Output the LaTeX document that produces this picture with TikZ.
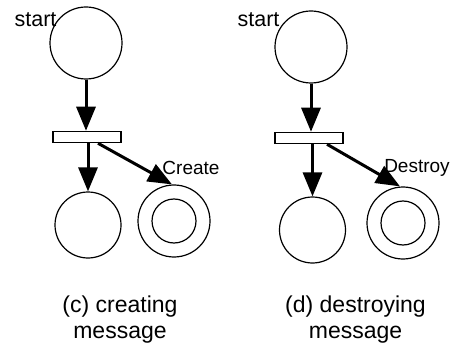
\documentclass[tikz,border=0pt]{standalone}
\usepackage{fontspec}
\setmainfont{Liberation Sans}
\usetikzlibrary{arrows.meta}
\tikzset{
  place/.style={circle, draw, line width=1.2pt, inner sep=0pt},
  trans/.style={rectangle, draw, line width=1.5pt, minimum width=68pt, minimum height=11pt, inner sep=0pt},
  flow/.style={line width=3pt, -{Triangle[length=24pt,width=19pt]}},
  lbl/.style={font=\fontsize{21.5}{24}\selectfont, anchor=base, inner sep=0pt},
  arclbl/.style={font=\fontsize{19}{22}\selectfont, anchor=base, inner sep=0pt},
  caption/.style={font=\fontsize{23}{26}\selectfont, anchor=base, inner sep=0pt, align=center}
}
\begin{document}
\begin{tikzpicture}[x=1pt,y=-1pt]
\useasboundingbox (0,0) rectangle (454,347);

% (c) creating a message
\node[place, minimum size=72pt] (sc) at (86,43) {};
\node[lbl] (stc) at (35.5,27) {start};
\node[trans] (tc) at (87,137) {};
\node[place, minimum size=66pt] (bc) at (88,225) {};
\node[place, minimum size=72pt] (dc) at (174,221) {};
\node[place, minimum size=44pt] (dci) at (174,221) {};
\node[arclbl] (crc) at (191,175) {Create};
\draw[flow] (sc.south) -- (sc.south |- tc.north);
\draw[flow] (bc.north |- tc.south) -- (bc.north);
\draw[flow] ([xshift=11pt]tc.south) -- ([xshift=-2pt]dc.north);
\node[caption] (capc) at (120,338) {(c) creating\\message};

% (d) destroying a message
\node[place, minimum size=72pt] (sd) at (311,47) {};
\node[lbl] (std) at (258.5,27) {start};
\node[trans] (td) at (309,138) {};
\node[place, minimum size=66pt] (bd) at (312.5,230) {};
\node[place, minimum size=72pt] (dd) at (403,223) {};
\node[place, minimum size=44pt] (ddi) at (403,223) {};
\node[arclbl] (dsd) at (417,172) {Destroy};
\draw[flow] (sd.south) -- (sd.south |- td.north);
\draw[flow] (bd.north |- td.south) -- (bd.north);
\draw[flow] ([xshift=18pt]td.south) -- ([xshift=-3pt]dd.north);
\node[caption] (capd) at (355.5,338) {(d) destroying\\message};
\end{tikzpicture}
\end{document}
